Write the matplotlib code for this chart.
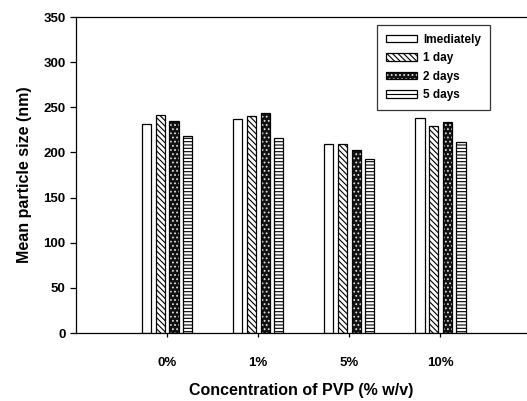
import numpy as np
import matplotlib
matplotlib.use("Agg")
import matplotlib.pyplot as plt
from matplotlib.patches import Patch
from matplotlib.lines import Line2D
from matplotlib.legend_handler import HandlerTuple

plt.rcParams['font.family'] = ['Liberation Sans', 'DejaVu Sans']
plt.rcParams['font.weight'] = 'bold'
plt.rcParams['hatch.linewidth'] = 0.8

groups = ['0%', '1%', '5%', '10%']
series = ['Imediately', '1 day', '2 days', '5 days']
imediately = [232, 237, 209, 238]
one_day = [242, 240, 209, 229]
two_days = [235, 244, 203, 234]
five_days = [218, 216, 193, 212]
values = [imediately, one_day, two_days, five_days]

fig = plt.figure(figsize=(5.27, 4.01), dpi=100)
ax = fig.add_axes([76/527, 1-333/401, 1-76/527, (333-17)/401])

x = np.arange(len(groups))
w = 0.1
offs = [-0.225, -0.075, 0.075, 0.225]
diag = '\\' * 6
horiz = '-' * 5
handles = []
for i, (name, vals) in enumerate(zip(series, values)):
    pos = x + offs[i]
    if i == 0:
        ax.bar(pos, vals, w, facecolor='white', edgecolor='black', lw=0.9)
        h = Patch(facecolor='white', edgecolor='black', lw=0.9)
    elif i == 1:
        ax.bar(pos, vals, w, facecolor='white', edgecolor='black', hatch=diag, lw=0.9)
        h = Patch(facecolor='white', edgecolor='black', hatch=diag, lw=0.9)
    elif i == 2:
        ax.bar(pos, vals, w, facecolor='#111111', edgecolor='#dddddd', hatch='....', lw=0)
        ax.bar(pos, vals, w, facecolor='none', edgecolor='black', lw=0.9)
        h = (Patch(facecolor='#111111', edgecolor='#dddddd', hatch='....', lw=0),
             Patch(facecolor='none', edgecolor='black', lw=0.9))
    else:
        ax.bar(pos, vals, w, facecolor='white', edgecolor='black', hatch=horiz, lw=0.9)
        h = (Patch(facecolor='white', edgecolor='black', lw=0.9),
             Line2D([], [], color='black', lw=0.8))
    handles.append(h)

ax.set_xlim(-1, 3.95)
ax.set_ylim(0, 350)
ax.set_yticks(range(0, 351, 50))
ax.set_xticks(x)
ax.set_xticklabels(groups, fontsize=9.5, fontweight='bold')
ax.tick_params(axis='y', labelsize=9.5, length=4, direction='out', width=0.9)
ax.tick_params(axis='x', length=3, direction='out', width=0.9, pad=14)
for lab in ax.get_yticklabels():
    lab.set_fontweight('bold')
ax.spines['right'].set_visible(False)
for s in ['left', 'bottom', 'top']:
    ax.spines[s].set_linewidth(0.9)

ax.set_ylabel('Mean particle size (nm)', fontsize=11.5, fontweight='bold', labelpad=8)
ax.set_xlabel('Concentration of PVP (% w/v)', fontsize=11.5, fontweight='bold', labelpad=10)

leg = ax.legend(handles, series, loc='upper left', bbox_to_anchor=(377/527, 1-25/401),
                bbox_transform=fig.transFigure, handler_map={tuple: HandlerTuple(ndivide=1)},
                fontsize=8.5, frameon=True, fancybox=False, edgecolor='black',
                handlelength=2.6, handleheight=0.6, labelspacing=0.55, borderpad=0.75,
                handletextpad=0.55, borderaxespad=0)
leg.get_frame().set_linewidth(0.9)

fig.savefig('out.png', dpi=100)
